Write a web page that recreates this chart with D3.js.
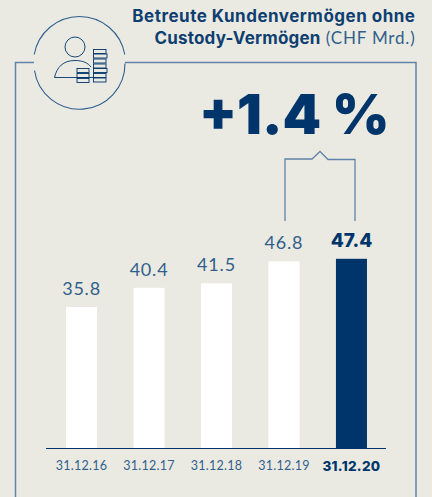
<!DOCTYPE html>
<html><head><meta charset="utf-8"><script src="https://cdnjs.cloudflare.com/ajax/libs/d3/7.8.5/d3.min.js"></script>
<style>html,body{margin:0;padding:0;background:#eaeae2}svg{display:block;font-family:Lato,sans-serif}</style></head>
<body><svg id="c" width="432" height="497"></svg>
<script>
const categories=["31.12.16","31.12.17","31.12.18","31.12.19","31.12.20"];
const values=[35.8,40.4,41.5,46.8,47.4];
const titleLines=["Betreute Kundenvermögen ohne","Custody-Vermögen"];
const titleUnit=" (CHF Mrd.)";
const headline="+1.4 %";
const navy="#00356b",line="#5f84a8",mid="#315f8c";
const svg=d3.select("#c");
const x=d3.scaleBand().domain(categories).range([47.8,385.2]).paddingInner(0.54).paddingOuter(0.27);
const y=d3.scaleLinear().domain([1.8,47.4]).range([448,258.8]);
svg.append("path").attr("d","M15.5,497V62.5H34M125,62.5H416V497").attr("fill","none").attr("stroke",line).attr("stroke-width",1.5);
const ic=svg.append("g").attr("transform","translate(79.5,62.5)").attr("fill","none").attr("stroke",navy).attr("stroke-width",0.9);
ic.append("path").attr("d","M-45.3,-8A46,46 0 0 1 45.3,-8M45.5,1A45.5,45.5 0 0 1 -45,8").attr("stroke","#2f5f8f").attr("stroke-width",1.1);
const p=ic.append("g").attr("transform","translate(-79.5,-62.5)");
p.append("circle").attr("cx",75).attr("cy",47).attr("r",10);
p.append("path").attr("d","M54.5,77.5C57,67 63,60.5 75,60.5C83,60.5 88,63 91,67M54.5,77.5H96");
[[77,68.5],[77,73.5],[77,78.5]].forEach(d=>p.append("rect").attr("x",d[0]).attr("y",d[1]).attr("width",12).attr("height",4));
[[93.5,49.5,12.5],[93.5,54,13.5],[93.5,59,12.5],[93.5,64,12.5],[93.5,68.5,13.5],[93.5,73.5,12.5],[93.5,78,12.5]].forEach(d=>p.append("rect").attr("x",d[0]).attr("y",d[1]).attr("width",d[2]).attr("height",4));
const t=svg.append("g").attr("text-anchor","end").attr("fill","#0f3f70");
t.append("text").attr("x",415.5).attr("y",22).style("font-family","Inter").attr("font-size",17).attr("letter-spacing",0.5).attr("font-weight",700).text(titleLines[0]);
const t2=t.append("text").attr("x",415.5).attr("y",44).attr("font-size",17);
t2.append("tspan").style("font-family","Inter").attr("letter-spacing",0.2).attr("font-weight",700).text(titleLines[1]);
t2.append("tspan").attr("font-weight",400).style("font-family","Lato").attr("font-size",17).attr("letter-spacing",0.8).attr("fill",mid).text(titleUnit);
svg.append("text").attr("x",389.5).attr("y",134).attr("text-anchor","end").style("font-family","Inter").attr("font-size",55).attr("font-weight",900).attr("fill",navy).text(headline);
svg.append("path").attr("d","M285,221V159H312L320,151.5L328,159.5H355V221").attr("fill","none").attr("stroke",line).attr("stroke-width",1.3);
const last=categories.length-1;
svg.selectAll("rect.bar").data(values).join("rect").attr("class","bar")
 .attr("x",(d,i)=>x(categories[i])).attr("width",x.bandwidth())
 .attr("y",d=>y(d)).attr("height",d=>448-y(d))
 .attr("fill",(d,i)=>i===last?navy:"#fff");
svg.selectAll("text.val").data(values).join("text").attr("class","val")
 .attr("x",(d,i)=>x(categories[i])+x.bandwidth()/2).attr("y",d=>y(d)-12)
 .attr("text-anchor","middle").attr("font-size",(d,i)=>i===last?19:18)
 .style("font-family",(d,i)=>i===last?"Inter":"Lato").attr("letter-spacing",(d,i)=>i===last?0:0.8)
 .attr("font-weight",(d,i)=>i===last?800:400).attr("fill",(d,i)=>i===last?navy:mid)
 .text(d=>d.toFixed(1));
const ax=d3.axisBottom(x).tickSize(0).tickPadding(13);
const g=svg.append("g").attr("transform","translate(0,448)").call(ax);
g.attr("font-family",null).attr("font-size",null);
g.select(".domain").attr("d","M46,0.5H386").attr("stroke",navy).attr("stroke-width",1.1);
g.selectAll("text").attr("font-size",(d,i)=>i===last?13.5:12.5)
 .style("font-family",(d,i)=>i===last?"Inter":"Lato").attr("letter-spacing",(d,i)=>i===last?0.3:0.25)
 .attr("fill",(d,i)=>i===last?navy:mid).attr("font-weight",(d,i)=>i===last?800:400);
</script></body></html>
